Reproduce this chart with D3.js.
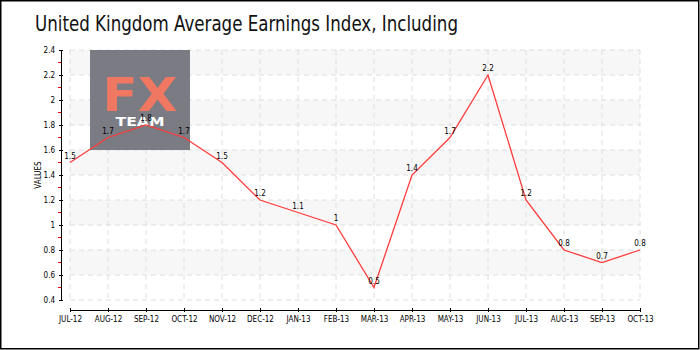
<!DOCTYPE html>
<html><head><meta charset="utf-8">
<script src="https://cdn.jsdelivr.net/npm/d3@7"></script>
<style>
html,body{margin:0;padding:0;background:#fff;}
svg{display:block;}
</style></head>
<body>
<script>
const categories = ["JUL-12","AUG-12","SEP-12","OCT-12","NOV-12","DEC-12","JAN-13","FEB-13","MAR-13","APR-13","MAY-13","JUN-13","JUL-13","AUG-13","SEP-13","OCT-13"];
const values = [1.5,1.7,1.8,1.7,1.5,1.2,1.1,1.0,0.5,1.4,1.7,2.2,1.2,0.8,0.7,0.8];
const valueLabels = ["1.5","1.7","1.8","1.7","1.5","1.2","1.1","1","0.5","1.4","1.7","2.2","1.2","0.8","0.7","0.8"];
const yTicks = [0.4,0.6,0.8,1.0,1.2,1.4,1.6,1.8,2.0,2.2,2.4];
const yTickLabels = ["0.4","0.6","0.8","1","1.2","1.4","1.6","1.8","2","2.2","2.4"];
const yMinorTicks = [0.5,0.7,0.9,1.1,1.3,1.5,1.7,1.9,2.1,2.3];
const title = "United Kingdom Average Earnings Index, Including";

const W = 700, H = 350;
const svg = d3.select("body").append("svg").attr("width", W).attr("height", H);

svg.append("rect").attr("x",0.75).attr("y",0.75).attr("width",W-2).attr("height",H-2)
  .attr("fill","#fff").attr("stroke","#000").attr("stroke-width",1.5);

svg.append("text").attr("x",35).attr("y",31).text(title)
  .attr("font-family","'DejaVu Sans Condensed', 'DejaVu Sans', sans-serif")
  .attr("font-size",22).attr("fill","#111")
  .attr("textLength",423).attr("lengthAdjust","spacingAndGlyphs");

const x = d3.scalePoint().domain(categories).range([70,640]);
const y = d3.scaleLinear().domain([0.4,2.4]).range([300,50]);

const g = svg.append("g");

for (let i = 0; i < yTicks.length-1; i++) {
  if ((yTicks.length-2-i) % 2 === 0) {
    g.append("rect").attr("x",70).attr("width",570)
      .attr("y",y(yTicks[i+1])).attr("height",y(yTicks[i])-y(yTicks[i+1]))
      .attr("fill","#f7f7f7");
  }
}
g.selectAll(".hg").data(yTicks).join("line")
  .attr("x1",70).attr("x2",640).attr("y1",d=>y(d)).attr("y2",d=>y(d))
  .attr("stroke","#dedede").attr("stroke-dasharray","5,4");
g.selectAll(".vg").data(categories).join("line")
  .attr("x1",d=>x(d)).attr("x2",d=>x(d)).attr("y1",50).attr("y2",300)
  .attr("stroke","#dedede").attr("stroke-dasharray","5,4");

const wm = svg.append("g");
wm.append("rect").attr("x",90).attr("y",50).attr("width",100).attr("height",100).attr("fill","#7b7b83");
wm.append("text").attr("x",140).attr("y",111).attr("text-anchor","middle")
  .attr("font-family","'DejaVu Sans', sans-serif").attr("font-weight","bold").attr("font-size",47).attr("fill","#f07862")
  .attr("textLength",75).attr("lengthAdjust","spacingAndGlyphs").text("FX");
wm.append("text").attr("x",140).attr("y",126).attr("text-anchor","middle")
  .attr("font-family","'DejaVu Sans', sans-serif").attr("font-weight","bold").attr("font-size",13).attr("fill","#fff")
  .attr("textLength",49).attr("lengthAdjust","spacingAndGlyphs").text("TEAM");

const yAxis = d3.axisLeft(y).tickValues(yTicks).tickFormat((d,i)=>yTickLabels[i]).tickSizeInner(2).tickSizeOuter(0).tickPadding(4);
const ya = svg.append("g").attr("transform","translate(61,0)").call(yAxis);
ya.select(".domain").attr("stroke","#000");
ya.selectAll(".tick line").attr("x1",-2).attr("x2",2).attr("stroke","#000");
ya.selectAll("text").attr("font-family","'DejaVu Sans Condensed', sans-serif").attr("font-size",8).attr("fill","#000");
svg.append("g").selectAll("line").data(yMinorTicks).join("line")
  .attr("x1",58).attr("x2",61).attr("y1",d=>y(d)).attr("y2",d=>y(d)).attr("stroke","#e00").attr("stroke-width",1);

svg.append("text").attr("transform","translate(41,175) rotate(-90)").attr("text-anchor","middle")
  .attr("font-family","'DejaVu Sans Condensed', sans-serif").attr("font-size",8).attr("fill","#000").text("VALUES");

const xAxis = d3.axisBottom(x).tickSizeInner(2).tickSizeOuter(0).tickPadding(4);
const xa = svg.append("g").attr("transform","translate(0,310)").call(xAxis);
xa.select(".domain").attr("stroke","#000");
xa.selectAll(".tick line").attr("y1",-2).attr("y2",2).attr("stroke","#000");
xa.selectAll("text").attr("font-family","'DejaVu Sans Condensed', sans-serif").attr("font-size",8).attr("fill","#000");

const line = d3.line().x((d,i)=>x(categories[i])).y(d=>y(d));
svg.append("path").datum(values).attr("d",line).attr("fill","none").attr("stroke","#ff3b3b").attr("stroke-width",1.3);

svg.append("g").selectAll("text").data(values).join("text")
  .attr("x",(d,i)=>x(categories[i])).attr("y",d=>y(d)-4).attr("text-anchor","middle")
  .attr("font-family","'DejaVu Sans Condensed', sans-serif").attr("font-size",8).attr("fill","#000")
  .text((d,i)=>valueLabels[i]);
</script>
</body></html>
